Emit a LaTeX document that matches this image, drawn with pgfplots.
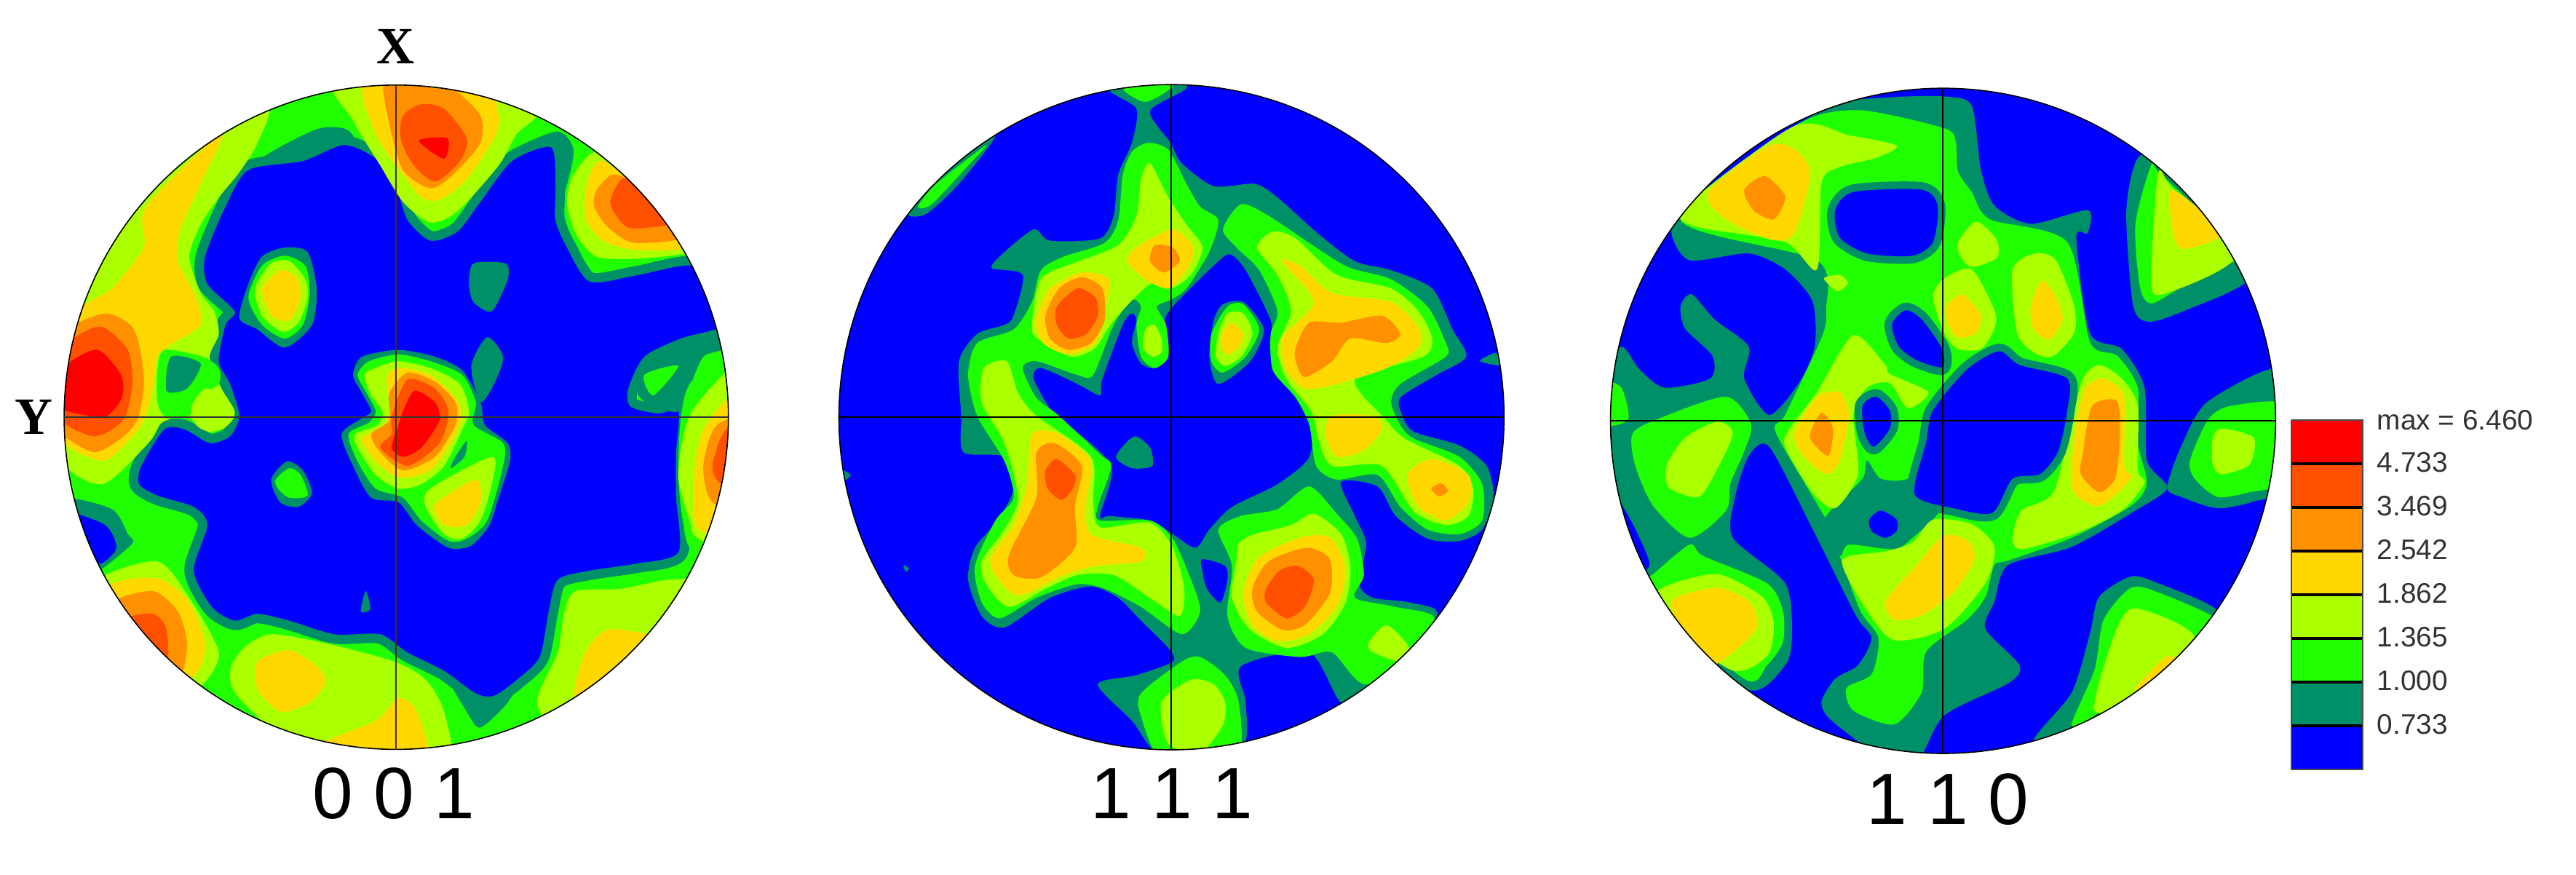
\documentclass[border=0pt]{standalone}
\usepackage{pgfplots}
\pgfplotsset{compat=1.18}
\usepackage{fontspec}
\setmainfont{Liberation Sans}
\newfontfamily\serifb{Liberation Serif}[BoldFont={Liberation Serif Bold}]
\definecolor{cB}{HTML}{0000FF}
\definecolor{cT}{HTML}{009068}
\definecolor{cG}{HTML}{20FF00}
\definecolor{cL}{HTML}{AAFF00}
\definecolor{cY}{HTML}{FFD800}
\definecolor{cO}{HTML}{FF9000}
\definecolor{cD}{HTML}{FF5000}
\definecolor{cR}{HTML}{FF0000}
\pgfplotsset{
  lv/.style={fill=#1,draw=none,smooth cycle,tension=0.45,forget plot},
  panel/.style={hide axis,scale only axis,width=245pt,height=245pt,
    xmin=0,xmax=1568,ymin=0,ymax=1568,y dir=reverse,anchor=south west,clip=false},
}
\newcommand{\poly}[2]{\addplot[lv=#1] coordinates {#2};}
\newcommand{\base}[1]{\addplot[fill=#1,draw=none,forget plot] coordinates {(-10,-10) (1580,-10) (1580,1580) (-10,1580)} --cycle;}
\newcommand{\hole}[2]{\addplot[lv=cT,draw=cT,line width=#1pt,line join=round] coordinates {#2};\addplot[lv=cB] coordinates {#2};}
\begin{document}
\begin{tikzpicture}
\path (0pt,0pt) rectangle (884.75pt,300.25pt);
% ---------- panel 1: 0 0 1
\begin{scope}
\clip (136.09pt,156.97pt) circle (114.06pt);
\begin{axis}[panel,at={(15pt,32.75pt)}]
\base{cG}
\poly{cT}{(480,205) (600,140) (665,140) (680,175) (570,215)}
\poly{cT}{(1035,185) (1130,145) (1165,190) (1135,300) (1110,200) (1045,225)}
\poly{cT}{(880,1330) (950,1380) (1040,1350) (1020,1400) (960,1455) (930,1420)}
\poly{cT}{(1400,600) (1480,570) (1500,620) (1450,640) (1420,710) (1405,775) (1350,780)}
\hole{6.5}{(660,175) (730,205) (775,270) (800,340) (850,385) (910,365) (960,300) (1030,210) (1115,180) (1125,260) (1125,340) (1150,400) (1200,475) (1300,462) (1425,440) (1470,500) (1495,570) (1400,600) (1320,640) (1285,710) (1290,750) (1350,765) (1395,760) (1390,850) (1390,950) (1395,1070) (1300,1095) (1200,1110) (1130,1130) (1110,1200) (1090,1300) (1040,1350) (990,1385) (950,1380) (880,1330) (800,1290) (740,1250) (640,1250) (540,1220) (470,1205) (420,1220) (370,1190) (330,1110) (360,1010) (330,970) (250,945) (210,920) (215,880) (265,800) (310,800) (365,830) (410,815) (430,770) (410,700) (385,650) (400,570) (420,540) (360,480) (355,420) (400,310) (450,230) (570,210)}
% upper left rim
\poly{cL}{(490,90) (470,170) (430,235) (385,290) (345,350) (320,420) (345,500) (375,540) (385,590) (365,640) (385,700) (420,760) (405,790) (365,800) (310,770) (270,780) (255,790) (230,830) (130,920) (40,870) (-10,700) (90,400) (160,350) (300,170)}
\poly{cY}{(390,150) (345,260) (300,360) (295,430) (335,510) (345,570) (285,610) (250,640) (240,710) (215,790) (150,860) (110,865) (30,810) (-10,600) (100,520) (150,490) (220,400) (225,310)}
\poly{cO}{(20,640) (70,570) (140,545) (195,575) (215,640) (220,710) (205,780) (170,820) (110,850) (40,810) (10,760)}
\poly{cD}{(20,640) (80,590) (130,575) (185,625) (195,700) (180,770) (150,800) (110,815) (50,790) (10,740)}
\poly{cR}{(20,690) (60,650) (120,625) (170,680) (172,730) (140,770) (100,770) (30,750)}
\poly{cG}{(265,625) (350,640) (385,665) (385,700) (340,730) (320,770) (270,775) (250,740) (250,670)}
\poly{cT}{(280,640) (345,655) (315,710) (270,715)}
\poly{cL}{(355,710) (395,725) (410,770) (400,795) (365,805) (335,790) (325,750)}
% lower-left rim
\poly{cT}{(40,950) (150,975) (185,1030) (195,1050) (130,1105) (90,1120) (30,1010)}
\poly{cB}{(50,985) (135,1010) (160,1060) (125,1095) (80,1080)}
\poly{cL}{(120,1130) (250,1090) (320,1170) (385,1290) (350,1360) (300,1370) (120,1220)}
\poly{cY}{(130,1160) (180,1130) (260,1130) (320,1180) (355,1270) (340,1330) (300,1350) (180,1270)}
\poly{cO}{(150,1180) (240,1155) (295,1200) (315,1270) (300,1340) (240,1300) (170,1240)}
\poly{cD}{(170,1220) (240,1205) (270,1240) (270,1320) (220,1280)}
% bottom
\poly{cL}{(440,1280) (500,1250) (620,1270) (770,1310) (840,1350) (880,1420) (895,1540) (780,1570) (600,1540) (430,1390) (410,1330)}
\poly{cY}{(470,1310) (540,1285) (600,1320) (620,1355) (585,1400) (520,1420) (470,1370)}
\poly{cY}{(600,1500) (730,1440) (780,1390) (820,1420) (845,1540) (700,1570)}
\poly{cL}{(1085,1400) (1130,1290) (1145,1200) (1170,1155) (1270,1150) (1380,1130) (1470,1150) (1400,1420) (1150,1470)}
\poly{cY}{(1165,1390) (1190,1290) (1240,1240) (1330,1250) (1380,1260) (1200,1450)}
% right rim
\poly{cG}{(1420,700) (1505,620) (1570,620) (1570,1100) (1430,1070) (1405,1000) (1395,900) (1400,780)}
\poly{cL}{(1420,770) (1505,670) (1570,660) (1570,1080) (1440,1040) (1420,1000) (1395,900)}
\poly{cY}{(1450,800) (1510,730) (1570,760) (1570,1020) (1440,1020) (1430,900)}
\poly{cO}{(1480,790) (1570,780) (1570,990) (1470,960) (1450,880)}
\poly{cD}{(1500,800) (1570,800) (1570,940) (1490,920) (1470,880)}
\poly{cT}{(1320,660) (1400,620) (1440,640) (1410,710) (1395,760) (1340,750) (1305,720)}
\poly{cG}{(1320,680) (1395,660) (1340,725)}
% top peak
\poly{cL}{(655,30) (680,120) (740,220) (790,300) (850,345) (910,320) (1000,220) (1040,150) (1085,110) (1120,30)}
\poly{cY}{(710,30) (730,150) (790,240) (830,290) (870,295) (930,250) (990,160) (1000,110) (960,30)}
\poly{cO}{(750,30) (760,130) (790,230) (850,270) (900,240) (960,170) (960,110) (900,50) (850,30)}
\poly{cD}{(790,110) (830,85) (880,95) (930,160) (915,210) (860,255) (810,215) (785,160)}
\poly{cR}{(825,165) (888,160) (880,205)}
% upper right peak
\poly{cL}{(1150,300) (1165,240) (1215,190) (1300,250) (1460,400) (1400,415) (1300,425) (1215,420) (1170,370)}
\poly{cY}{(1190,300) (1200,240) (1240,215) (1420,390) (1300,405) (1230,385) (1195,345)}
\poly{cO}{(1210,310) (1215,275) (1250,240) (1300,260) (1420,370) (1300,390) (1240,355)}
\poly{cD}{(1245,300) (1270,250) (1300,260) (1400,340) (1300,358) (1270,345)}
% islands
\poly{cT}{(430,555) (450,480) (480,420) (530,400) (580,410) (600,490) (590,570) (530,620) (470,580)}
\poly{cG}{(450,510) (480,440) (530,418) (575,440) (585,500) (570,570) (530,600) (480,570)}
\poly{cL}{(465,490) (500,435) (540,430) (575,470) (580,510) (560,565) (525,585) (480,550)}
\poly{cY}{(480,490) (520,450) (555,465) (565,510) (540,560) (500,550)}
\poly{cT}{(500,910) (535,870) (570,890) (590,940) (560,970) (520,960)}
\poly{cG}{(510,910) (540,885) (565,900) (580,945) (540,950) (515,930)}
\poly{cT}{(945,435) (1015,435) (1020,470) (985,540) (945,520) (935,480)}
\poly{cT}{(708,1155) (718,1195) (697,1200)}
% centre
\poly{cT}{(975,597) (1010,640) (990,700) (960,740) (940,660)}
\poly{cT}{(680,680) (700,640) (780,625) (860,640) (920,670) (960,740) (970,790) (1020,830) (1025,870) (1000,950) (980,1010) (940,1055) (890,1060) (820,1010) (780,960) (720,950) (680,880) (655,810) (700,775) (720,760) (700,720)}
\poly{cG}{(690,680) (715,650) (780,635) (850,650) (920,680) (950,740) (945,790) (1010,830) (1010,880) (975,1000) (930,1040) (890,1045) (830,1000) (790,950) (730,930) (690,870) (670,810) (715,785) (730,760) (710,720)}
\poly{cL}{(705,680) (730,665) (780,650) (850,665) (915,700) (935,760) (920,800) (880,880) (830,920) (780,930) (730,900) (690,840) (685,810) (735,790) (745,760) (720,725)}
\poly{cT}{(930,825) (925,860) (895,885) (905,860)}
\poly{cL}{(850,930) (985,860) (985,920) (960,1000) (920,1040) (880,1030) (840,970)}
\poly{cY}{(860,965) (950,910) (960,960) (930,1010) (880,1010)}
\poly{cY}{(755,680) (790,665) (850,680) (905,730) (920,770) (900,820) (850,890) (780,905) (730,870) (700,820) (750,790) (760,750)}
\poly{cO}{(760,720) (800,675) (860,695) (905,740) (905,790) (860,860) (790,890) (740,850) (720,810) (760,780)}
\poly{cD}{(765,770) (800,690) (860,710) (890,760) (870,830) (800,880) (740,840) (765,810)}
\poly{cR}{(790,760) (815,715) (860,740) (870,780) (830,840) (790,860) (765,840) (780,790)}
\end{axis}
\end{scope}
% ---------- panel 2: 1 1 1
\begin{scope}
\clip (402.34pt,156.97pt) circle (114.2pt);
\begin{axis}[panel,at={(282.5pt,32.75pt)}]
\base{cB}
\poly{cT}{(630,50) (690,95) (680,170) (650,240) (640,330) (610,380) (500,385) (465,360) (400,410) (372,445) (440,460) (420,550) (400,570) (340,590) (300,650) (305,770) (310,850) (400,860) (420,930) (385,1000) (335,1060) (320,1130) (350,1210) (400,1235) (500,1170) (590,1145) (650,1170) (700,1220) (760,1280) (770,1310) (690,1340) (605,1360) (680,1440) (750,1520) (920,1500) (930,1400) (920,1320) (1070,1290) (1140,1400) (1200,1360) (1350,1210) (1290,1180) (1210,1170) (1180,1140) (1195,1050) (1170,990) (1140,915) (1220,925) (1260,990) (1330,1040) (1400,1045) (1450,1020) (1475,950) (1460,880) (1400,835) (1300,805) (1275,770) (1270,730) (1350,680) (1415,640) (1385,580) (1340,490) (1250,450) (1170,430) (1090,370) (1000,290) (950,260) (860,265) (790,215) (765,170) (720,100) (800,50) (770,20)}
\poly{cB}{(770,530) (860,440) (895,415) (930,450) (985,560) (985,610) (1000,680) (1070,770) (1070,860) (1000,920) (900,970) (850,1020) (820,1060) (770,1030) (720,1000) (630,990) (610,990) (635,880) (540,790) (510,770) (465,690) (480,665) (560,700) (610,725) (615,690) (660,570) (680,545) (690,560) (680,610) (700,655) (730,665) (760,640) (750,570)}
\poly{cB}{(835,1085) (885,1100) (890,1130) (875,1180) (845,1150) (835,1110)}
\poly{cT}{(178,1098) (190,1105) (183,1113)}
\poly{cT}{(45,890) (62,900) (48,912)}
\poly{cT}{(1445,650) (1480,632) (1500,660)}
\poly{cT}{(190,330) (230,325) (300,260) (380,155) (300,200) (200,300)}
\poly{cG}{(210,310) (240,305) (320,220) (360,175) (250,260)}
\poly{cG}{(660,50) (710,80) (770,45) (720,30)}
\poly{cG}{(660,240) (680,190) (715,170) (760,185) (800,260) (830,310) (870,340) (850,410) (800,490) (765,515) (735,530) (755,570) (760,640) (730,665) (700,640) (690,570) (700,530) (680,515) (640,570) (595,680) (560,680) (470,650) (440,665) (470,730) (520,770) (610,855) (635,880) (605,970) (610,1000) (720,1000) (770,1040) (810,1130) (830,1200) (790,1250) (700,1190) (620,1150) (560,1140) (470,1170) (390,1215) (350,1180) (335,1100) (380,1000) (420,950) (400,870) (340,770) (320,680) (340,610) (420,580) (460,520) (480,450) (530,420) (620,390) (650,340)}
\poly{cL}{(720,215) (760,290) (800,350) (835,400) (810,460) (765,490) (720,480) (640,560) (600,620) (550,640) (490,610) (460,580) (480,470) (550,435) (650,395) (690,330) (700,250)}
\poly{cL}{(355,665) (405,650) (430,720) (470,770) (590,860) (595,960) (610,1015) (720,1005) (770,1060) (795,1150) (785,1210) (720,1170) (640,1120) (560,1120) (490,1150) (410,1190) (360,1140) (350,1090) (400,1020) (430,950) (400,830) (350,740)}
\poly{cL}{(710,580) (730,570) (745,600) (745,630) (725,640) (705,620)}
\poly{cY}{(690,400) (770,360) (815,400) (800,450) (760,490) (710,470) (670,430)}
\poly{cO}{(730,395) (770,400) (785,430) (750,455) (720,430)}
\poly{cY}{(470,560) (500,490) (570,455) (630,470) (620,540) (600,610) (540,635) (485,610)}
\poly{cO}{(490,550) (520,490) (570,465) (615,490) (620,560) (590,610) (540,625) (500,600)}
\poly{cD}{(515,530) (560,490) (600,510) (605,550) (580,590) (540,600) (515,570)}
\poly{cY}{(460,810) (520,810) (590,870) (580,960) (590,1030) (700,1060) (700,1090) (600,1100) (530,1120) (430,1165) (380,1120) (370,1080) (420,1010) (450,920)}
\poly{cO}{(470,850) (510,830) (570,880) (555,970) (555,1060) (480,1125) (420,1120) (410,1075) (470,950)}
\poly{cD}{(490,890) (515,865) (555,900) (550,930) (525,955) (495,930)}
\poly{cG}{(880,360) (920,305) (980,330) (1100,410) (1160,445) (1250,470) (1330,530) (1370,610) (1370,640) (1270,700) (1250,740) (1270,790) (1300,820) (1400,860) (1450,920) (1450,1000) (1400,1030) (1330,1020) (1270,970) (1220,900) (1130,910) (1085,880) (1070,790) (1040,730) (990,670) (985,590) (1000,540) (960,450) (910,400)}
\poly{cL}{(955,400) (990,365) (1040,380) (1130,460) (1250,490) (1310,540) (1340,600) (1320,640) (1170,690) (1240,780) (1280,820) (1400,880) (1430,930) (1420,990) (1370,1010) (1300,980) (1230,880) (1120,880) (1090,820) (1075,760) (1020,690) (1000,620) (1030,540) (1000,460)}
\poly{cY}{(1010,430) (1050,440) (1120,500) (1250,520) (1310,575) (1310,620) (1240,665) (1130,700) (1060,710) (1020,670) (1010,600) (1080,520)}
\poly{cY}{(1120,770) (1210,770) (1230,800) (1190,845) (1130,860) (1105,810)}
\poly{cY}{(1285,900) (1340,865) (1420,900) (1420,960) (1370,1000) (1310,970)}
\poly{cO}{(1338,930) (1360,918) (1375,935) (1355,947)}
\poly{cO}{(1040,620) (1070,565) (1140,565) (1230,550) (1270,590) (1240,610) (1160,600) (1120,650) (1060,685) (1040,650)}
\poly{cT}{(860,560) (880,525) (925,520) (970,580) (940,650) (870,700) (850,640)}
\poly{cG}{(855,590) (890,530) (925,525) (960,580) (930,640) (880,675) (855,650)}
\poly{cL}{(870,590) (890,545) (925,545) (945,590) (920,640) (885,660) (865,640)}
\poly{cY}{(880,585) (900,565) (925,590) (915,620) (890,635) (875,615)}
\poly{cT}{(645,860) (685,815) (720,840) (725,880) (680,885)}
\poly{cG}{(870,1020) (920,990) (1000,975) (1070,925) (1130,985) (1175,1040) (1190,1120) (1170,1170) (1260,1190) (1345,1220) (1200,1360) (1120,1290) (1050,1300) (930,1280) (890,1210) (900,1100)}
\poly{cL}{(915,1050) (950,1030) (1030,1010) (1080,985) (1140,1030) (1160,1100) (1150,1180) (1100,1250) (1020,1280) (940,1240) (900,1170) (910,1090)}
\poly{cY}{(925,1160) (960,1080) (1060,1035) (1120,1040) (1150,1110) (1130,1190) (1070,1250) (1000,1265) (945,1230)}
\poly{cO}{(945,1150) (980,1090) (1065,1060) (1115,1085) (1115,1160) (1060,1230) (1010,1240) (955,1200)}
\poly{cD}{(975,1150) (1005,1110) (1045,1100) (1080,1130) (1060,1190) (1020,1215) (975,1180)}
\poly{cL}{(1200,1270) (1240,1230) (1290,1280) (1270,1310) (1210,1290)}
\poly{cG}{(700,1380) (790,1310) (830,1300) (885,1340) (915,1400) (910,1520) (750,1530) (700,1430)}
\poly{cL}{(745,1400) (810,1350) (860,1360) (885,1400) (880,1450) (830,1510) (760,1490)}
\end{axis}
\end{scope}
% ---------- panel 3: 1 1 0
\begin{scope}
\clip (667.34pt,155.72pt) circle (114.2pt);
\begin{axis}[panel,at={(547.5pt,25.25pt)}]
\base{cB}
\poly{cT}{(520,40) (650,22) (770,20) (830,40) (850,180) (880,260) (960,300) (1085,270) (1085,320) (1060,330) (1090,540) (1160,575) (1210,660) (1215,820) (1260,880) (1190,930) (1050,1010) (910,1050) (880,1130) (860,1190) (935,1270) (910,1310) (770,1380) (710,1480) (630,1470) (520,1390) (500,1350) (530,1300) (580,1270) (610,1210) (575,1160) (480,970) (385,790) (340,810) (310,900) (305,990) (420,1090) (435,1200) (420,1270) (330,1320) (100,1070) (210,990) (130,1060) (60,940) (10,750) (10,630) (60,570) (100,620) (155,660) (255,640) (260,590) (200,530) (190,480) (215,455) (265,510) (340,570) (330,640) (385,720) (450,650) (485,570) (480,470) (420,400) (340,365) (210,380) (170,320) (200,270) (350,150)}
\poly{cB}{(45,900) (85,960) (122,1048) (85,1060)}
\poly{cT}{(1200,150) (1170,270) (1185,480) (1220,515) (1300,490) (1440,420) (1400,300) (1300,170)}
\poly{cT}{(1260,880) (1290,790) (1350,690) (1520,620) (1530,870) (1450,910) (1370,925) (1290,900)}
\poly{cT}{(965,1440) (1050,1330) (1090,1200) (1110,1120) (1180,1075) (1240,1090) (1370,1150) (1330,1220) (1100,1420)}
\poly{cG}{(440,85) (580,50) (770,90) (795,120) (800,185) (830,230) (870,290) (1040,340) (1090,560) (1150,590) (1195,660) (1195,780) (1215,870) (1180,920) (1050,990) (910,1040) (880,1050) (860,1120) (820,1170) (730,1240) (720,1330) (660,1400) (570,1370) (555,1320) (610,1290) (625,1210) (585,1150) (540,1030) (510,950) (400,760) (420,720) (500,550) (510,490) (490,380) (190,290)}
\poly{cG}{(85,760) (150,725) (290,680) (345,740) (330,800) (300,870) (290,930) (210,990) (130,920) (90,830)}
\poly{cG}{(130,1070) (210,1005) (240,1030) (380,1090) (415,1150) (415,1220) (380,1270) (330,1300) (100,1100)}
\poly{cG}{(20,650) (60,660) (75,730) (20,740)}
\poly{cG}{(1225,170) (1245,190) (1420,360) (1390,390) (1290,440) (1225,475) (1200,440) (1190,300)}
\poly{cG}{(1310,820) (1350,730) (1400,700) (1530,700) (1530,860) (1440,890) (1370,900) (1320,860)}
\poly{cG}{(1050,1400) (1100,1280) (1120,1170) (1180,1100) (1240,1110) (1370,1170) (1320,1210) (1100,1380)}
\poly{cT}{(520,930) (590,860) (600,820) (630,860) (690,860) (730,800) (750,870) (760,930) (700,990) (660,1015) (560,1005) (540,1030) (500,970)}
\poly{cL}{(190,290) (200,260) (440,85) (560,105) (665,128) (620,155) (540,175) (500,210) (490,400) (420,340) (240,310)}
\poly{cL}{(505,420) (540,412) (558,430) (535,448)}
\poly{cL}{(800,340) (840,295) (885,335) (885,375) (830,395) (805,370)}
\poly{cL}{(745,460) (770,420) (830,400) (880,490) (880,530) (850,575) (800,575) (770,540)}
\poly{cL}{(920,400) (970,365) (1015,380) (1055,480) (1055,540) (1010,590) (970,585) (930,540)}
\poly{cL}{(1050,730) (1075,640) (1110,610) (1160,640) (1195,700) (1195,840) (1210,870) (1160,930) (1060,980) (940,1015) (920,990) (940,930) (1010,890)}
\poly{cL}{(430,750) (490,670) (570,545) (640,610) (650,630) (735,670) (690,705) (650,650) (600,660) (570,720) (580,850) (530,925) (480,890) (420,790)}
\poly{cL}{(545,1040) (640,1020) (700,1000) (745,950) (830,960) (880,1010) (860,1090) (770,1190) (660,1215) (600,1150)}
\poly{cL}{(160,830) (200,770) (270,735) (305,760) (270,840) (230,900) (165,880)}
\poly{cL}{(1240,190) (1270,220) (1410,370) (1250,455) (1225,420)}
\poly{cL}{(1360,770) (1380,750) (1450,770) (1440,830) (1380,850) (1360,830)}
\poly{cL}{(150,1100) (270,1070) (370,1120) (395,1180) (380,1250) (300,1280) (130,1150)}
\poly{cL}{(1100,1370) (1145,1200) (1190,1145) (1320,1210) (1200,1340)}
\hole{5.2}{(530,270) (570,230) (720,225) (755,260) (745,340) (700,370) (600,365) (540,330)}
\hole{5.2}{(655,520) (685,490) (720,510) (765,575) (765,615) (710,600) (670,570)}
\hole{5.2}{(590,700) (620,680) (650,710) (650,750) (615,790) (595,760)}
\hole{5.2}{(605,950) (630,930) (665,950) (665,975) (640,990) (610,975)}
\hole{5.2}{(820,620) (890,580) (935,610) (1040,640) (1040,710) (1020,800) (980,850) (920,860) (875,935) (790,925) (705,895) (730,780) (745,710)}
\poly{cY}{(250,230) (380,130) (440,135) (475,190) (440,320) (390,335) (290,290)}
\poly{cO}{(330,225) (375,195) (420,240) (395,290) (350,270)}
\poly{cY}{(1270,225) (1380,320) (1300,355) (1275,330)}
\poly{cY}{(775,480) (810,455) (850,500) (840,540) (800,550) (778,520)}
\poly{cY}{(960,480) (985,425) (1015,460) (1030,510) (1000,555) (965,530)}
\poly{cY}{(1060,740) (1080,660) (1120,640) (1165,680) (1165,830) (1180,860) (1110,920) (1050,880)}
\poly{cO}{(1095,700) (1150,690) (1155,780) (1145,860) (1110,890) (1070,850) (1075,800)}
\poly{cY}{(440,760) (490,680) (540,670) (560,720) (540,820) (510,850) (460,810)}
\poly{cO}{(475,760) (500,715) (525,750) (515,810) (480,780)}
\poly{cY}{(640,1130) (700,1060) (770,985) (825,1000) (835,1040) (790,1110) (720,1160) (660,1170)}
\poly{cY}{(170,1130) (270,1100) (340,1130) (360,1180) (330,1220) (260,1270) (210,1220)}
\poly{cY}{(1190,1320) (1260,1250) (1290,1280) (1210,1330)}
\end{axis}
\end{scope}
% ---------- frame axis in reference pixels: outlines, cross hairs, legend, text
\begin{axis}[hide axis,scale only axis,width=884.75pt,height=300.25pt,at={(0pt,0pt)},anchor=south west,
  xmin=0,xmax=3539,ymin=0,ymax=1201,y dir=reverse,clip=false]
\draw[black,line width=0.4pt] (axis cs:544.4,573.1) circle [radius=456.3];
\draw[black,line width=0.4pt] (axis cs:1609.4,573.1) circle [radius=456.9];
\draw[black,line width=0.4pt] (axis cs:2669.4,578.1) circle [radius=456.9];
\addplot[black!70!cO,line width=0.6pt,forget plot] coordinates {(544,117) (544,1030)};
\addplot[black!80,line width=0.5pt,forget plot] coordinates {(88,573) (1001,573)};
\addplot[black,line width=0.5pt,forget plot] coordinates {(1609,117) (1609,1030)};
\addplot[black,line width=0.5pt,forget plot] coordinates {(1153,573) (2066,573)};
\addplot[black,line width=0.5pt,forget plot] coordinates {(2669,121) (2669,1035)};
\addplot[black,line width=0.5pt,forget plot] coordinates {(2212,578) (3126,578)};
% legend bar
\addplot[fill=cR,draw=none,forget plot] coordinates {(3148,577) (3246,577) (3246,637) (3148,637)} --cycle;
\addplot[fill=cD,draw=none,forget plot] coordinates {(3148,637) (3246,637) (3246,697) (3148,697)} --cycle;
\addplot[fill=cO,draw=none,forget plot] coordinates {(3148,697) (3246,697) (3246,757) (3148,757)} --cycle;
\addplot[fill=cY,draw=none,forget plot] coordinates {(3148,757) (3246,757) (3246,817) (3148,817)} --cycle;
\addplot[fill=cL,draw=none,forget plot] coordinates {(3148,817) (3246,817) (3246,877) (3148,877)} --cycle;
\addplot[fill=cG,draw=none,forget plot] coordinates {(3148,877) (3246,877) (3246,937) (3148,937)} --cycle;
\addplot[fill=cT,draw=none,forget plot] coordinates {(3148,937) (3246,937) (3246,997) (3148,997)} --cycle;
\addplot[fill=cB,draw=none,forget plot] coordinates {(3148,997) (3246,997) (3246,1057) (3148,1057)} --cycle;
\addplot[black,line width=1.1pt,forget plot] coordinates {(3148,637) (3246,637)};
\addplot[black,line width=1.1pt,forget plot] coordinates {(3148,697) (3246,697)};
\addplot[black,line width=1.1pt,forget plot] coordinates {(3148,757) (3246,757)};
\addplot[black,line width=1.1pt,forget plot] coordinates {(3148,817) (3246,817)};
\addplot[black,line width=1.1pt,forget plot] coordinates {(3148,877) (3246,877)};
\addplot[black,line width=1.1pt,forget plot] coordinates {(3148,937) (3246,937)};
\addplot[black,line width=1.1pt,forget plot] coordinates {(3148,997) (3246,997)};
\addplot[black!70,line width=0.5pt,forget plot] coordinates {(3148,577) (3246,577) (3246,1057) (3148,1057) (3148,577)};
\foreach \yy/\tt in {577/max = 6.460,635/4.733,695/3.469,755/2.542,815/1.862,875/1.365,935/1.000,995/0.733}{
  \edef\temp{\noexpand\node[anchor=west,inner sep=0pt,text=black!80,font=\noexpand\fontsize{9.7}{12}\noexpand\selectfont] at (axis cs:3265,\yy) {\tt};}
  \temp
}
\node[font=\fontsize{25}{30}\selectfont] at (axis cs:541,1090) {0 0 1};
\node[font=\fontsize{25}{30}\selectfont] at (axis cs:1610,1090) {1 1 1};
\node[font=\fontsize{25}{30}\selectfont] at (axis cs:2676,1098) {1 1 0};
\node[font=\fontsize{18}{20}\selectfont\serifb\bfseries] at (axis cs:543,64) {X};
\node[font=\fontsize{18}{20}\selectfont\serifb\bfseries] at (axis cs:46,573) {Y};
\end{axis}
\end{tikzpicture}
\end{document}
